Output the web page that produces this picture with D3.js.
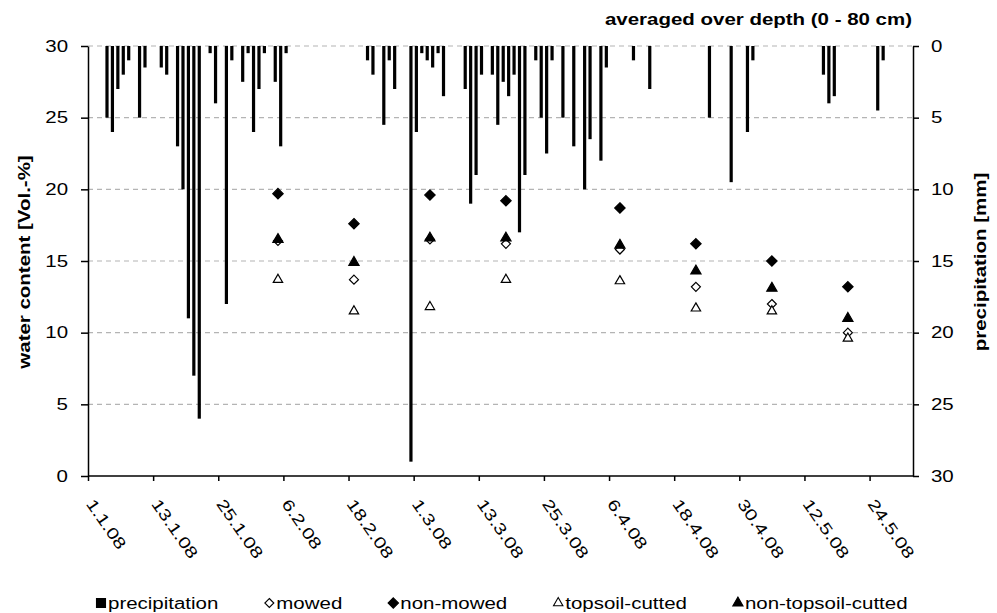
<!DOCTYPE html>
<html>
<head>
<meta charset="utf-8">
<script src="https://cdn.jsdelivr.net/npm/d3@7"></script>
<style>
  body { margin: 0; background: #fff; }
  svg { display: block; font-family: "Liberation Sans", Arial, sans-serif; }
</style>
</head>
<body>
<svg id="chart" width="997" height="613"></svg>
<script>
// daily precipitation [mm]
const rainDays = ["4.1.08","5.1.08","6.1.08","7.1.08","8.1.08","10.1.08","11.1.08","14.1.08","15.1.08",
  "17.1.08","18.1.08","19.1.08","20.1.08","21.1.08","23.1.08","24.1.08","26.1.08","27.1.08","29.1.08",
  "30.1.08","31.1.08","1.2.08","2.2.08","4.2.08","5.2.08","6.2.08","21.2.08","22.2.08","24.2.08",
  "25.2.08","26.2.08","29.2.08","1.3.08","2.3.08","3.3.08","4.3.08","5.3.08","6.3.08","10.3.08",
  "11.3.08","12.3.08","13.3.08","15.3.08","16.3.08","17.3.08","18.3.08","19.3.08","20.3.08","21.3.08",
  "23.3.08","24.3.08","25.3.08","26.3.08","28.3.08","30.3.08","1.4.08","2.4.08","4.4.08","5.4.08",
  "10.4.08","13.4.08","24.4.08","28.4.08","1.5.08","2.5.08","15.5.08","16.5.08","17.5.08","25.5.08","26.5.08"];
const rainMm = [5.0, 6.0, 3.0, 2.0, 1.0, 5.0, 1.5, 1.5, 2.0,
  7.0, 10.0, 19.0, 23.0, 26.0, 0.5, 4.0, 18.0, 1.0, 2.5,
  0.5, 6.0, 3.0, 0.5, 2.5, 7.0, 0.5, 1.0, 2.0, 5.5,
  1.0, 3.0, 29.0, 6.0, 0.5, 1.0, 1.5, 0.5, 3.5, 3.0,
  11.0, 9.0, 2.0, 2.0, 5.5, 2.5, 3.5, 2.0, 13.0, 9.0,
  1.0, 5.0, 7.5, 1.0, 5.0, 7.0, 10.0, 6.5, 8.0, 1.5,
  1.0, 3.0, 5.0, 9.5, 6.0, 1.0, 2.0, 4.0, 3.5, 4.5, 1.0];

// water content averaged over depth (0 - 80 cm) [Vol.-%]
const sampleDays = ["5.2.08","19.2.08","4.3.08","18.3.08","8.4.08","22.4.08","6.5.08","20.5.08"];
const mowed = [16.4, 13.7, 16.5, 16.2, 15.8, 13.2, 12.0, 10.0];
const nonMowed = [19.7, 17.6, 19.6, 19.2, 18.7, 16.2, 15.0, 13.2];
const topsoilCutted = [13.7, 11.5, 11.8, 13.7, 13.6, 11.7, 11.5, 9.6];
const nonTopsoilCutted = [16.5, 14.9, 16.6, 16.6, 16.1, 14.3, 13.1, 11.0];

const tickDays = ["1.1.08","13.1.08","25.1.08","6.2.08","18.2.08","1.3.08","13.3.08",
  "25.3.08","6.4.08","18.4.08","30.4.08","12.5.08","24.5.08"];
const waterTicks = [0, 5, 10, 15, 20, 25, 30];
const rainTicks = [0, 5, 10, 15, 20, 25, 30];

const parseDay = d3.utcParse("%d.%m.%y");

// chart area
const plotLeft = 88, plotRight = 913, plotTop = 46, plotBottom = 476;
const sx = 1.28; // text in the original is drawn a bit wide

const svg = d3.select("#chart");

const x = d3.scaleUtc()
    .domain([parseDay("1.1.08"), parseDay("1.6.08")])
    .range([plotLeft, plotRight]);
const yW = d3.scaleLinear().domain([0, 30]).range([plotBottom, plotTop]);
const yP = d3.scaleLinear().domain([0, 30]).range([plotTop, plotBottom]);

const dayMid = d => x(d) + (x(d3.utcDay.offset(d, 1)) - x(d)) / 2;

// dashed grid
svg.append("g")
    .selectAll("line")
    .data(waterTicks.filter(v => v > 0))
    .join("line")
    .attr("x1", plotLeft).attr("x2", plotRight)
    .attr("y1", d => yW(d)).attr("y2", d => yW(d))
    .attr("stroke", "#b4b4b4")
    .attr("stroke-width", 1.2)
    .attr("stroke-dasharray", "5,4");

// precipitation bars hanging from the top
const rain = rainDays.map((d, i) => ({ date: parseDay(d), mm: rainMm[i] }));
svg.append("g")
    .selectAll("rect")
    .data(rain)
    .join("rect")
    .attr("x", d => dayMid(d.date) - 1.6)
    .attr("y", yP(0))
    .attr("width", 3.2)
    .attr("height", d => yP(d.mm) - yP(0))
    .attr("fill", "#000");

// axes
function styleAxis(g) {
    g.selectAll("path, line").attr("stroke", "#000").attr("stroke-width", 1.5);
    g.selectAll("text").attr("fill", "#000").attr("font-size", 16)
        .attr("font-family", "'Liberation Sans', Arial, sans-serif");
}

const gLeft = svg.append("g")
    .attr("transform", `translate(${plotLeft},0)`)
    .call(d3.axisLeft(yW).tickValues(waterTicks).tickSize(7).tickSizeOuter(0))
    .call(styleAxis);
gLeft.selectAll("text")
    .attr("x", -20 / sx)
    .attr("transform", `scale(${sx},1)`);

const gRight = svg.append("g")
    .attr("transform", `translate(${plotRight},0)`)
    .call(d3.axisRight(yP).tickValues(rainTicks).tickSize(6).tickSizeOuter(0))
    .call(styleAxis);
gRight.selectAll("text")
    .attr("x", 18 / sx)
    .attr("transform", `scale(${sx},1)`);

const gBottom = svg.append("g")
    .attr("transform", `translate(0,${plotBottom})`)
    .call(d3.axisBottom(x)
        .tickValues(tickDays.map(parseDay))
        .tickFormat((d, i) => tickDays[i])
        .tickSize(5)
        .tickSizeOuter(0))
    .call(styleAxis);
gBottom.select(".domain").attr("d", `M${plotLeft},0H${plotRight}`);
gBottom.selectAll("text")
    .attr("y", null)
    .attr("dy", null)
    .attr("text-anchor", "start")
    .attr("transform", `translate(-3,28) rotate(55) scale(${sx},1)`);

// axis titles
svg.append("text")
    .attr("transform", `translate(30,262) rotate(-90) scale(${sx},1)`)
    .attr("text-anchor", "middle")
    .attr("font-size", 16)
    .attr("font-weight", "bold")
    .text("water content [Vol.-%]");

svg.append("text")
    .attr("transform", `translate(986,262) rotate(-90) scale(${sx},1)`)
    .attr("text-anchor", "middle")
    .attr("font-size", 16)
    .attr("font-weight", "bold")
    .text("precipitation [mm]");

svg.append("text")
    .attr("transform", `translate(912,25) scale(${sx},1)`)
    .attr("text-anchor", "end")
    .attr("font-size", 16)
    .attr("font-weight", "bold")
    .text("averaged over depth (0 - 80 cm)");

// marker shapes
const diamondPath = r => `M0,${-r}L${r},0L0,${r}L${-r},0Z`;
const triPath = s => d3.symbol(d3.symbolTriangle, s)();

const series = [
    { name: "mowed", values: mowed, path: diamondPath(4.5), fill: "#fff" },
    { name: "non-mowed", values: nonMowed, path: diamondPath(5.2), fill: "#000" },
    { name: "topsoil-cutted", values: topsoilCutted, path: triPath(38), fill: "#fff" },
    { name: "non-topsoil-cutted", values: nonTopsoilCutted, path: triPath(45), fill: "#000" }
];

const samples = sampleDays.map(parseDay);

series.forEach(s => {
    svg.append("g")
        .selectAll("path")
        .data(s.values)
        .join("path")
        .attr("transform", (v, i) => `translate(${x(samples[i])},${yW(v)})`)
        .attr("d", s.path)
        .attr("fill", s.fill)
        .attr("stroke", "#000")
        .attr("stroke-width", 1.2);
});

// legend
const legendItems = [
    { label: "precipitation", path: "M-4.5,-4.5H4.5V4.5H-4.5Z", fill: "#000" },
    ...series.map(s => ({ label: s.name, path: s.path, fill: s.fill }))
];

let lx = 96;
const ly = 603;
legendItems.forEach(item => {
    const g = svg.append("g");
    g.append("path")
        .attr("transform", `translate(${lx + 5},${ly})`)
        .attr("d", item.path)
        .attr("fill", item.fill)
        .attr("stroke", "#000")
        .attr("stroke-width", 1.1);
    const t = g.append("text")
        .attr("transform", `translate(${lx + 12},${ly + 5.5}) scale(${sx},1)`)
        .attr("font-size", 16)
        .text(item.label);
    lx += 12 + t.node().getComputedTextLength() * sx + 46;
});
</script>
</body>
</html>
